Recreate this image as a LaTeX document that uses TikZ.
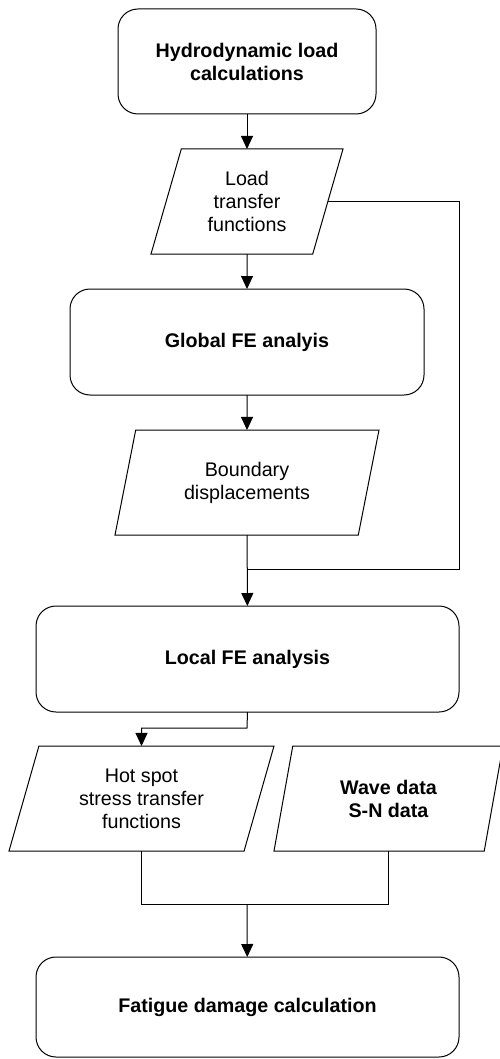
\documentclass[tikz,border=0pt]{standalone}
\usepackage{fontspec}
\setmainfont{Liberation Sans}
\usetikzlibrary{arrows.meta,shapes.geometric}

\begin{document}
\begin{tikzpicture}[x=1pt,y=-1pt,
  block/.style={draw,line width=1pt,rounded corners=20pt,align=center,inner sep=0pt,outer sep=0pt,
    font=\bfseries\fontsize{19.7}{23}\selectfont},
  io/.style={draw,line width=1pt,trapezium,trapezium left angle=63.4,trapezium right angle=116.6,
    trapezium stretches body,minimum height=105pt,align=center,inner sep=0pt,outer sep=0pt,
    font=\fontsize{19.7}{23}\selectfont},
  >={Triangle[width=12pt,length=13pt]}]
  \useasboundingbox (0,0) rectangle (499,1059);

  \node[block,minimum width=258pt,minimum height=105pt] (hydro) at (247,61.5) {Hydrodynamic load\\calculations};
  \node[io,minimum width=192pt] (load) at (247,201.5) {Load\\transfer\\functions};
  \node[block,minimum width=354pt,minimum height=106pt] (global) at (247,342) {Global FE analyis};
  \node[io,minimum width=264pt] (bound) at (247,482.5) {Boundary\\displacements};
  \node[block,minimum width=423pt,minimum height=106pt] (local) at (247.5,659) {Local FE analysis};
  \node[io,minimum width=265pt] (hotspot) at (141.5,798.5) {Hot spot\\stress transfer\\functions};
  \node[io,minimum width=229pt,font=\bfseries\fontsize{19.7}{23}\selectfont] (wave) at (388.5,798.5) {Wave data\\S-N data};
  \node[block,minimum width=423pt,minimum height=100pt] (fatigue) at (247.5,1007) {Fatigue damage calculation};

  \coordinate (rside) at (459,569);
  \coordinate (merge) at (247,569);
  \coordinate (split) at (247,728);
  \coordinate (join) at (247,904);

  \draw[->,line width=1pt] (hydro)--(load);
  \draw[->,line width=1pt] (load)--(global);
  \draw[->,line width=1pt] (global)--(bound);
  \draw[->,line width=1pt] (bound)--(local);
  \draw[line width=1pt] (load.east) -| (rside) -- (merge);
  \draw[->,line width=1pt] (local.south) -- (split) -| (hotspot.north);
  \draw[line width=1pt] (hotspot.south) |- (join) -| (wave.south);
  \draw[->,line width=1pt] (join)--(fatigue);
\end{tikzpicture}
\end{document}
